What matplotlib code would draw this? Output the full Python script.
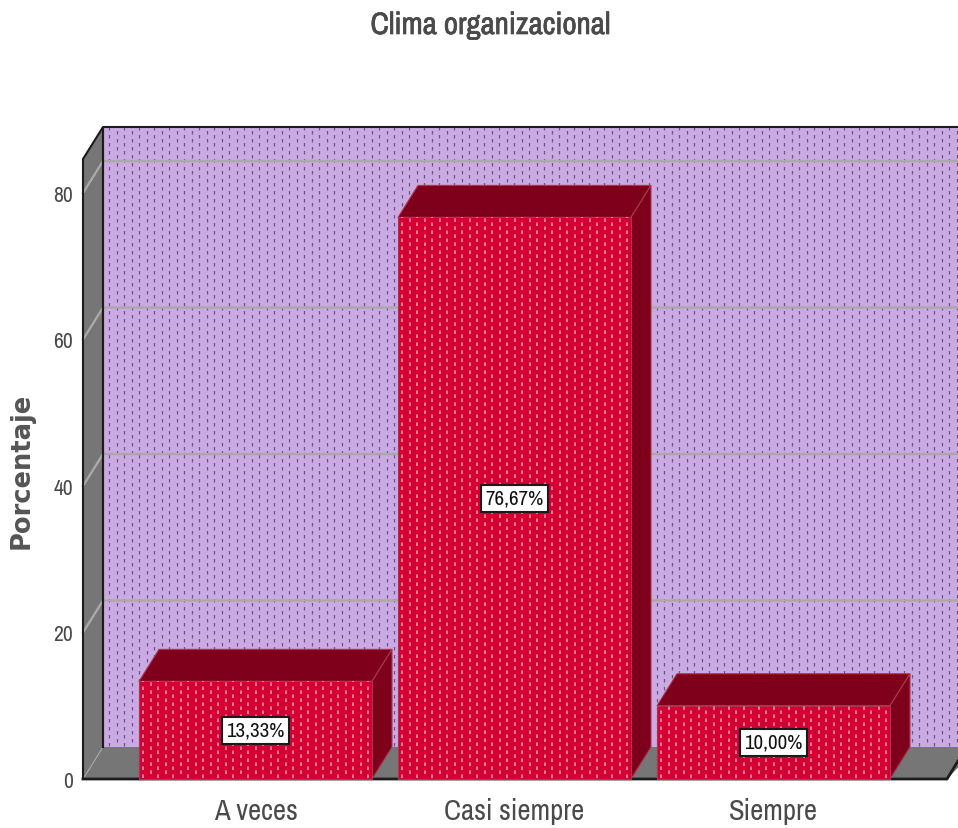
#!/usr/bin/env python3
# Bar chart with a pseudo-3D box frame, dotted fill on the wall and the bars.
import numpy as np
import matplotlib
matplotlib.use("Agg")
import matplotlib.pyplot as plt
import matplotlib.patheffects as pe
from matplotlib.patches import Polygon

categories = ["A veces", "Casi siempre", "Siempre"]
values = [13.33, 76.67, 10.00]
y_ticks = [0, 20, 40, 60, 80]
title = "Clima organizacional"
y_label = "Porcentaje"

FIG_W, FIG_H = 958, 829
LEFT, RIGHT, TOP, BOTTOM = 83, 958, 128, 780   # axes box in pixels
PX_X = 259.0    # pixels per category
PX_Y = 7.325    # pixels per percent
X0_PX = 255.5   # pixel position of the first category
DX = 20 / PX_X  # depth offset of the box
DY = 32 / PX_Y
BAR_W = 233 / PX_X

NARROW = ["Archivo Narrow", "PT Sans Narrow", "Liberation Sans"]
TEXT = "#4a4a4a"
WALL = "#cbaae4"
WALL_DOT = "#6a5584"
GRAY = "#767676"
GRID = "#a9a9a6"
BAR = "#d40033"
BAR_DARK = "#7f001b"
BAR_DOT = "#f0a0b2"
BAR_EDGE = "#a8384f"

plt.rcParams["lines.scale_dashes"] = False

fig = plt.figure(figsize=(FIG_W / 100, FIG_H / 100), dpi=100, facecolor="white")
ax = fig.add_axes([LEFT / FIG_W, 1 - BOTTOM / FIG_H, (RIGHT - LEFT) / FIG_W, (BOTTOM - TOP) / FIG_H])
ax.set_xlim((LEFT - X0_PX) / PX_X, (RIGHT - X0_PX) / PX_X)
ax.set_ylim(0, (BOTTOM - TOP) / PX_Y)
for s in ax.spines.values():
    s.set_visible(False)
ax.patch.set_visible(False)
xmin, xmax = ax.get_xlim()
ymax = ax.get_ylim()[1]


def dots(x0, x1, y0, y1, color, z, lw=0.9):
    # two staggered sets of dashed columns, 7.5 px apart
    xs = np.arange(x0, x1, 7.5 / PX_X)
    on, off = 3.5 * 0.72, 4.5 * 0.72
    ax.vlines(xs[::2], y0, y1, colors=color, linewidth=lw, zorder=z,
              linestyles=[(0, (on, off))], capstyle="butt")
    ax.vlines(xs[1::2], y0, y1, colors=color, linewidth=lw, zorder=z,
              linestyles=[(4.0 * 0.72, (on, off))], capstyle="butt")


# back wall, floor and left wall
x_back = xmin + DX
ax.add_patch(Polygon([(x_back, DY), (xmax + DX, DY), (xmax + DX, ymax), (x_back, ymax)],
                     fc=WALL, ec="none", zorder=1, clip_on=False))
dots(x_back + 6 / PX_X, xmax, DY + 0.2, ymax, WALL_DOT, 1.5)
ax.add_patch(Polygon([(xmin, 0), (x_back, DY), (xmax + DX, DY), (xmax - 11 / PX_X, 0)],
                     fc=GRAY, ec="none", zorder=2, clip_on=False))
ax.add_patch(Polygon([(xmin, 0), (x_back, DY), (x_back, ymax), (xmin, ymax - DY)],
                     fc=GRAY, ec="none", zorder=2, clip_on=False))

# gridlines run across the left wall and the back wall
for t in y_ticks[1:]:
    ax.plot([xmin, x_back, xmax], [t, t + DY, t + DY], color=GRID, lw=1.7, zorder=3, clip_on=False)
ax.plot([xmin, x_back], [0, DY], color=GRID, lw=0.8, zorder=3)

# dark frame lines
ax.plot([xmin, xmin, x_back, xmax], [0, ymax - DY, ymax, ymax], color="#1c1c1c", lw=1.5, zorder=4, clip_on=False)
ax.plot([x_back, x_back], [DY, ymax], color="#1c1c1c", lw=1.6, zorder=4)
ax.plot([xmin, xmax - 11 / PX_X, xmax], [0, 0, 18 / PX_Y], color="#1c1c1c", lw=2.0, zorder=4, clip_on=False)

# bars
x_pos = np.arange(len(categories))
ax.bar(x_pos, values, width=BAR_W, color=BAR, edgecolor=BAR_EDGE, linewidth=0.8, zorder=6, clip_on=False)
for x, v in zip(x_pos, values):
    l, r = x - BAR_W / 2, x + BAR_W / 2
    ax.add_patch(Polygon([(l, v), (l + DX, v + DY), (r + DX, v + DY), (r, v)],
                         fc=BAR_DARK, ec=BAR_EDGE, lw=0.8, zorder=5))
    ax.add_patch(Polygon([(r, 0), (r + DX, DY), (r + DX, v + DY), (r, v)],
                         fc=BAR_DARK, ec=BAR_EDGE, lw=0.8, zorder=5))
    dots(l + 4 / PX_X, r, 0.1, v, BAR_DOT, 6.5, lw=1.1)
    ax.text(x, v / 2, f"{v:.2f}".replace(".", ",") + "%", ha="center", va="center",
            family=NARROW, fontsize=15, color="#111111", zorder=8,
            bbox=dict(boxstyle="square,pad=0.2", fc="white", ec="#1a1a1a", lw=1.5))

ax.set_xticks(x_pos, categories, family=NARROW, fontsize=20.7, color=TEXT)
ax.set_yticks(y_ticks, [str(t) for t in y_ticks], family=NARROW, fontsize=15.5, color=TEXT)
ax.tick_params(axis="both", length=0)
ax.tick_params(axis="x", pad=13)
ax.tick_params(axis="y", pad=7)

fig.text(490 / FIG_W, 1 - 26 / FIG_H, title, ha="center", va="center",
         family=NARROW, fontsize=22.3, color=TEXT,
         path_effects=[pe.withStroke(linewidth=0.5, foreground=TEXT)])
fig.text(22 / FIG_W, 1 - 471 / FIG_H, y_label, ha="center", va="center", rotation=90,
         family="DejaVu Sans", fontsize=18.5, fontweight="bold", color="#555555")

fig.savefig("out.png", dpi=100)
